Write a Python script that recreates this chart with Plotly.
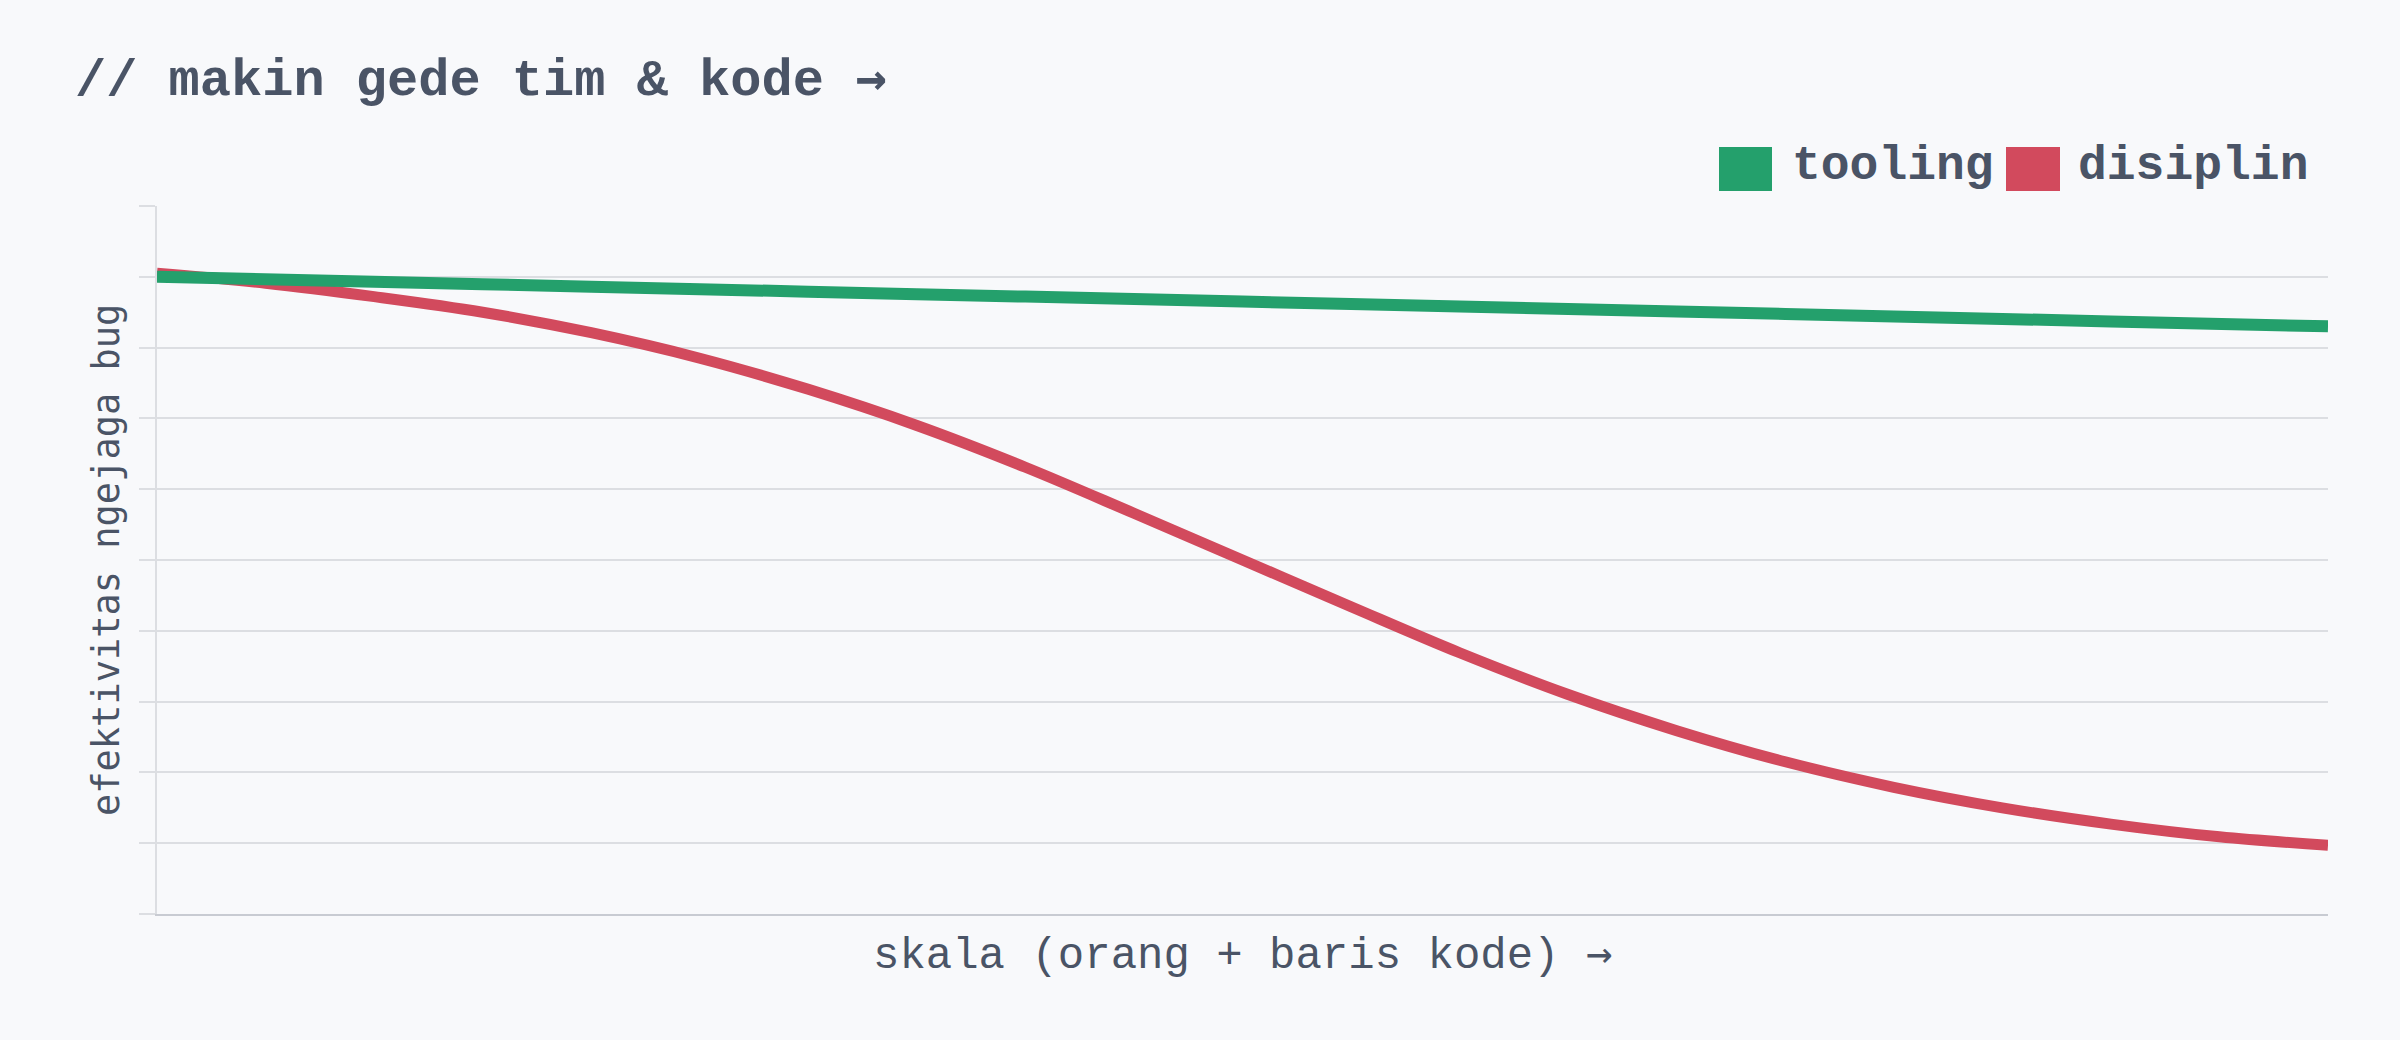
import plotly.graph_objects as go

# ---- data ----
series_names = ["tooling", "disiplin"]
series_colors = ["#24a06c", "#d24a5d"]

x_tooling = [0, 10, 20, 30, 40, 50, 60, 70, 80, 90, 100]
y_tooling = [0.900, 0.893, 0.886, 0.879, 0.872, 0.865, 0.858, 0.851, 0.844, 0.837, 0.830]

x_disiplin = [0, 5, 10, 15, 20, 25, 30, 35, 40, 45, 50,
              55, 60, 65, 70, 75, 80, 85, 90, 95, 100]
y_disiplin = [0.905, 0.891, 0.872, 0.850, 0.821, 0.785, 0.741, 0.690, 0.631, 0.566, 0.500,
              0.434, 0.369, 0.310, 0.259, 0.215, 0.179, 0.150, 0.127, 0.109, 0.097]

y_ticks = [0.0, 0.1, 0.2, 0.3, 0.4, 0.5, 0.6, 0.7, 0.8, 0.9, 1.0]

title_text = "// makin gede tim & kode"
x_title = "skala (orang + baris kode)"
arrow = "→"
y_title = "efektivitas ngejaga bug"

# ---- layout constants ----
W, H = 2400, 1040
L, R, T, B = 157, 72, 206, 126
PW, PH = W - L - R, H - T - B
BG = "#f8f9fb"
TXT = "#4a5466"
GRID = "#dcdee2"
MONO_WIDE = "Liberation Mono"
MONO = "DejaVu Sans Mono"


def px(x):
    return (x - L) / PW


def py(y):
    return (H - B - y) / PH


def with_arrow(text):
    return f"{text} <span style=\"font-family:'{MONO}'\">{arrow}</span>"


fig = go.Figure()
fig.add_trace(go.Scatter(x=x_disiplin, y=y_disiplin, mode="lines", name=series_names[1],
                         line=dict(color=series_colors[1], width=11, shape="spline"),
                         showlegend=False))
fig.add_trace(go.Scatter(x=x_tooling, y=y_tooling, mode="lines", name=series_names[0],
                         line=dict(color=series_colors[0], width=12, shape="spline"),
                         showlegend=False))

shapes = []
annotations = []

# manual legend (square swatches + bold labels)
legend_items = [(1719, 1772, 1790), (2006, 2060, 2076)]
for (x0, x1, tx), name, col in zip(legend_items, series_names, series_colors):
    shapes.append(dict(type="rect", xref="paper", yref="paper",
                       x0=px(x0), x1=px(x1), y0=py(191), y1=py(147),
                       fillcolor=col, line=dict(width=0)))
    annotations.append(dict(text=f"<b>{name}</b>", xref="paper", yref="paper",
                            x=px(tx), y=py(166), xanchor="left", yanchor="middle",
                            showarrow=False, font=dict(family=MONO_WIDE, size=48, color=TXT)))

# chart title
annotations.append(dict(text=f"<b>{with_arrow(title_text)}</b>", xref="paper", yref="paper",
                        x=px(73), y=py(79), xanchor="left", yanchor="middle",
                        showarrow=False, font=dict(family=MONO_WIDE, size=52, color=TXT)))
# axis titles
annotations.append(dict(text=with_arrow(x_title), xref="paper", yref="paper",
                        x=0.5, y=py(954), xanchor="center", yanchor="middle",
                        showarrow=False, font=dict(family=MONO_WIDE, size=44, color=TXT)))
annotations.append(dict(text=y_title, xref="paper", yref="paper",
                        x=px(106), y=0.5, xanchor="center", yanchor="middle", textangle=-90,
                        showarrow=False, font=dict(family=MONO, size=37, color=TXT)))

fig.update_layout(
    width=W, height=H,
    margin=dict(l=L, r=R, t=T, b=B, pad=0),
    paper_bgcolor=BG, plot_bgcolor=BG,
    showlegend=False,
    shapes=shapes, annotations=annotations,
    xaxis=dict(range=[0, 100], showgrid=False, zeroline=False, showticklabels=False,
               ticks="", showline=True, linecolor="#c8cbd2", linewidth=2),
    yaxis=dict(range=[0, 1], tickvals=y_ticks, showticklabels=False, showgrid=True,
               gridcolor=GRID, gridwidth=1.5, zeroline=False,
               ticks="outside", ticklen=16, tickcolor=GRID, tickwidth=1.5,
               showline=True, linecolor=GRID, linewidth=1.5),
)

fig.write_html("out.html")
